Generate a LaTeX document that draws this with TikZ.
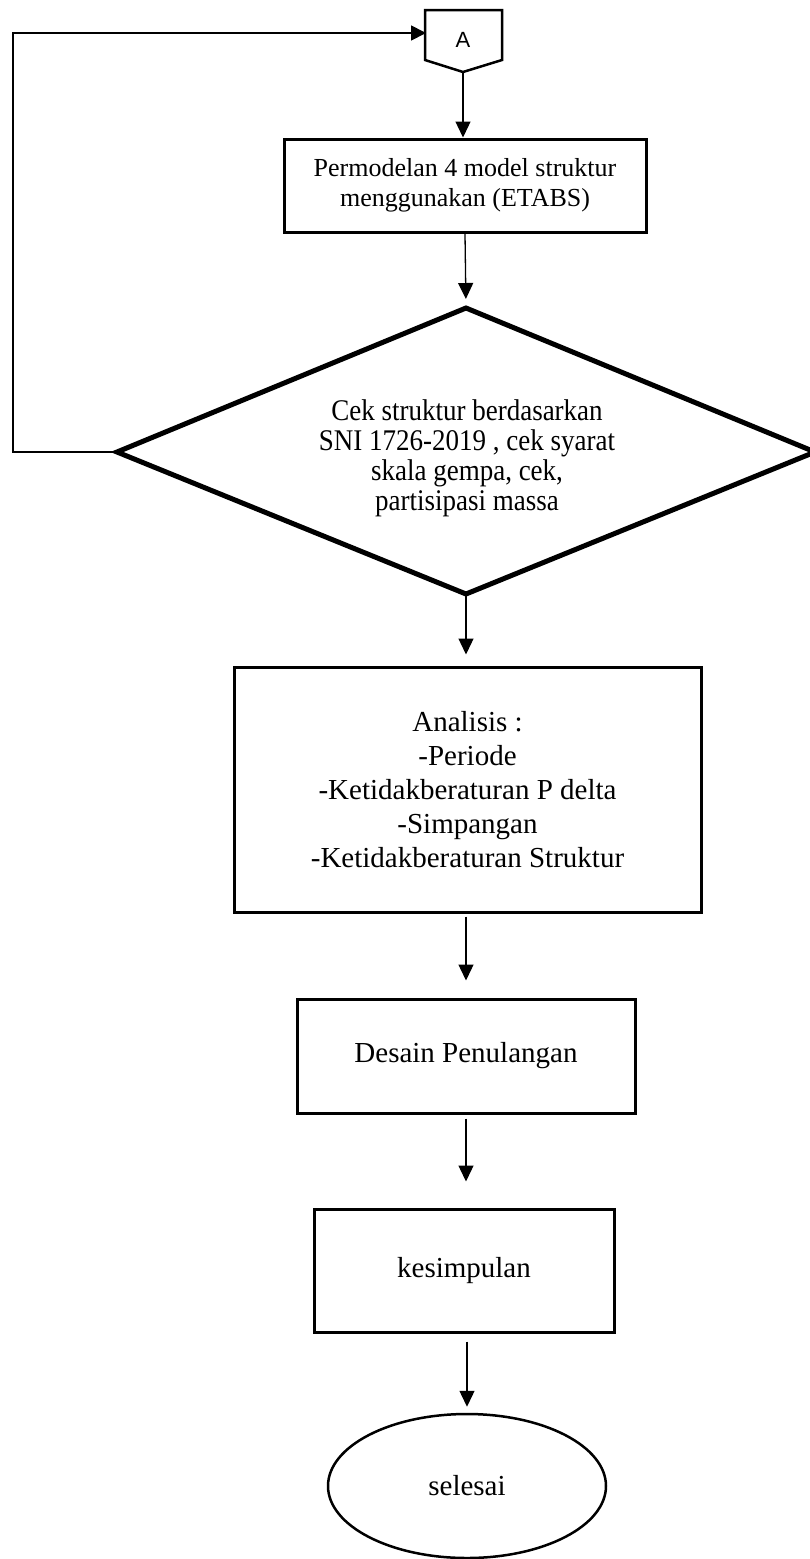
\documentclass[tikz,border=0pt]{standalone}
\usepackage{fontspec}
\setmainfont{Liberation Serif}
\newfontfamily\sansA{Liberation Sans}
\newfontfamily\condserif[FakeStretch=0.9]{Liberation Serif}
\usetikzlibrary{arrows.meta,shapes.geometric}
\begin{document}
\begin{tikzpicture}[x=1pt,y=-1pt,
  conn/.style={line width=1.3pt,-{Triangle[length=16pt,width=15pt]}},
  loopline/.style={line width=1.8pt,-{Triangle[length=15pt,width=15pt]}},
  proc/.style={draw,line width=3pt,rectangle,inner sep=0pt,align=center},
  txtbig/.style={font=\fontsize{29}{34}\selectfont}]
\useasboundingbox (0,0) rectangle (809,1559);
% off-page connector A
\draw[line width=2.5pt,line join=miter] (425,10) -- (502,10) -- (502,60) -- (463,72) -- (425,60) -- cycle;
\node[font=\sansA\fontsize{22}{26}\selectfont] (A) at (463,40) {A};
\coordinate (Atip) at (463,72);
\coordinate (Ain) at (426,33);
% process 1
\node[proc,minimum width=362pt,minimum height=93pt,font=\fontsize{26}{30}\selectfont] (model) at (465,185.5) {Permodelan 4 model struktur\\menggunakan (ETABS)};
% decision diamond
\coordinate (dT) at (466,308);
\coordinate (dR) at (815,452);
\coordinate (dB) at (466,594);
\coordinate (dL) at (117,452);
\draw[line width=5pt,line join=miter] (dT) -- (dR) -- (dB) -- (dL) -- cycle;
\node[align=center,font=\condserif\fontsize{30}{30}\selectfont] (cek) at (467,458) {Cek struktur berdasarkan\\SNI 1726-2019 , cek syarat\\skala gempa, cek,\\partisipasi massa};
% analisis
\node[proc,minimum width=467pt,minimum height=245pt,txtbig] (analisis) at (467.5,789.5) {Analisis :\\-Periode\\-Ketidakberaturan P delta\\-Simpangan\\-Ketidakberaturan Struktur};
% desain
\node[proc,minimum width=338pt,minimum height=114pt,txtbig] (desain) at (466,1056) {Desain Penulangan};
% kesimpulan
\node[proc,minimum width=300pt,minimum height=123pt,txtbig] (kes) at (464,1270.5) {kesimpulan};
% selesai
\node[draw,ellipse,line width=2.5pt,minimum width=278pt,minimum height=144pt,inner sep=0pt,txtbig] (end) at (467,1486) {selesai};
% loop back
\coordinate (lb) at (13,452);
\coordinate (lt) at (13,33);
\draw[loopline] (dL) -- (lb) -- (lt) -- (Ain);
% connectors
\draw[conn] (Atip) -- (Atip |- model.north);
\draw[conn,shorten >=9pt] (model.south) -- (dT);
\draw[conn,shorten >=11pt] (dB) -- (dB |- analisis.north);
\draw[conn,shorten <=3pt,shorten >=17pt] (analisis.south -| desain.north) -- (desain.north);
\draw[conn,shorten <=4pt,shorten >=26pt] (desain.south) -- (desain.south |- kes.north);
\draw[conn,shorten <=8pt,shorten >=6pt] (kes.south -| end.north) -- (end.north);
\end{tikzpicture}
\end{document}
